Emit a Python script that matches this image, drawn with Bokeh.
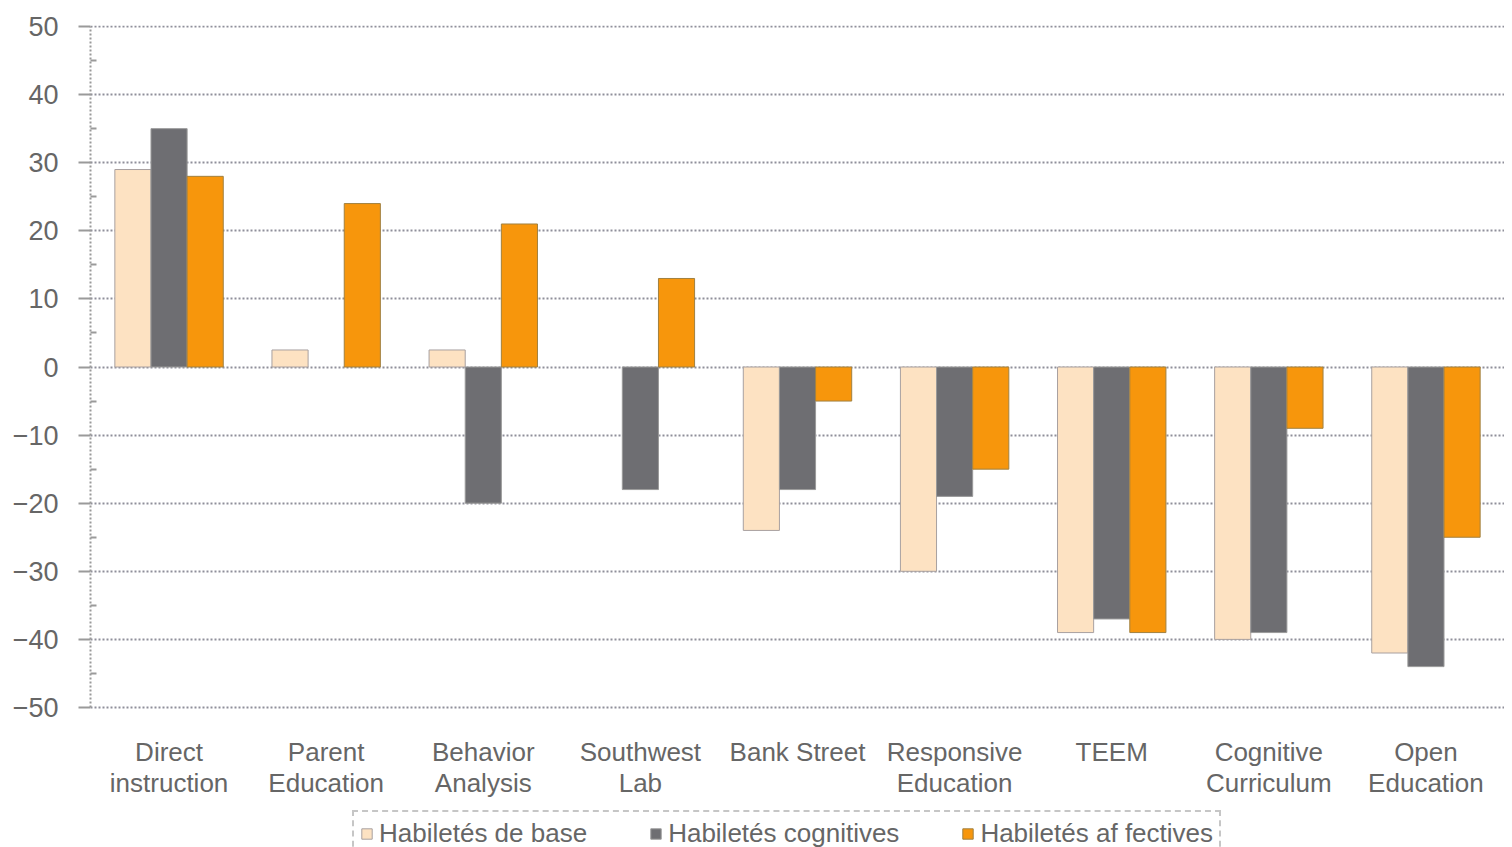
from bokeh.plotting import figure
from bokeh.models import (ColumnDataSource, FactorRange, Range1d, FixedTicker, Legend, LegendItem)
from bokeh.core.properties import value
from bokeh.transform import dodge
from bokeh.embed import file_html
from bokeh.resources import INLINE

nan = float("nan")
categories = ["Direct\ninstruction", "Parent\nEducation", "Behavior\nAnalysis", "Southwest\nLab",
              "Bank Street", "Responsive\nEducation", "TEEM", "Cognitive\nCurriculum", "Open\nEducation"]
base = [29, 2.5, 2.5, nan, -24, -30, -39, -40, -42]
cognitive = [35, nan, -20, -18, -18, -19, -37, -39, -44]
affective = [28, 24, 21, 13, -5, -15, -39, -9, -25]
series_names = ["Habiletés de base", "Habiletés cognitives", "Habiletés af fectives"]
y_ticks = [50, 40, 30, 20, 10, 0, -10, -20, -30, -40, -50]

FONT = "Liberation Sans"
TXT = "#666666"

src = ColumnDataSource(dict(cats=categories, base=base, cog=cognitive, aff=affective,
                            label_y=[-54.3] * len(categories)))

y_top = 50.15
px_per_unit = 683 / 100.3
frame_h = 822
y_bottom = y_top - frame_h / px_per_unit

p = figure(frame_width=1414, frame_height=frame_h, output_backend="svg", toolbar_location=None,
           x_range=FactorRange(*categories, range_padding=0), y_range=Range1d(y_bottom, y_top),
           min_border_top=25, min_border_left=90, min_border_right=0, min_border_bottom=0)
p.outline_line_color = None
p.background_fill_color = "white"

bw = 0.23
r1 = p.vbar(x=dodge("cats", -bw, range=p.x_range), top="base", bottom=0, width=bw, source=src,
            fill_color="#FDE2C2", line_color="#A8A0A0", line_width=1)
r2 = p.vbar(x=dodge("cats", 0, range=p.x_range), top="cog", bottom=0, width=bw, source=src,
            fill_color="#6E6E72", line_color="#9A9A9A", line_width=1)
r3 = p.vbar(x=dodge("cats", bw, range=p.x_range), top="aff", bottom=0, width=bw, source=src,
            fill_color="#F7960C", line_color="#A08040", line_width=1)

# category labels (below the -50 line, as in the original)
p.text(x="cats", y="label_y", text="cats", source=src, text_align="center", text_baseline="top",
       text_font=value(FONT), text_font_size="26px", text_color=TXT, text_line_height=1.05)

# grid
p.xgrid.grid_line_color = None
p.ygrid.grid_line_color = "#8f8f9a"
p.ygrid.grid_line_dash = "2 2"
p.ygrid.grid_line_width = 2
p.yaxis.ticker = FixedTicker(ticks=y_ticks, minor_ticks=[v + 5 for v in y_ticks[1:]])

# y axis
ya = p.yaxis[0]
ya.bounds = (-50, 50)
ya.axis_line_color = "#9a9a9a"
ya.axis_line_width = 2
ya.axis_line_dash = "2 2"
ya.major_tick_out = 12
ya.major_tick_in = 0
ya.major_tick_line_color = "#9a9a9a"
ya.major_tick_line_width = 2
ya.minor_tick_in = 6
ya.minor_tick_out = 0
ya.minor_tick_line_color = "#9a9a9a"
ya.minor_tick_line_width = 2
ya.major_label_standoff = 20
ya.major_label_text_font = FONT
ya.major_label_text_font_size = "27px"
ya.major_label_text_color = TXT

p.xaxis.visible = False

legend = Legend(items=[LegendItem(label=series_names[0], renderers=[r1]),
                       LegendItem(label=series_names[1], renderers=[r2]),
                       LegendItem(label=series_names[2], renderers=[r3])],
                orientation="horizontal", location=(262, -10),
                label_text_font=FONT, label_text_font_size="26px", label_text_color=TXT,
                glyph_width=13, glyph_height=13, label_standoff=6, spacing=62,
                padding=6, margin=0, label_height=24,
                border_line_color="#8f8f8f", border_line_dash="2 2", border_line_width=2,
                background_fill_color="white")
p.add_layout(legend, "center")

open("out.html", "w").write(file_html(p, INLINE))
